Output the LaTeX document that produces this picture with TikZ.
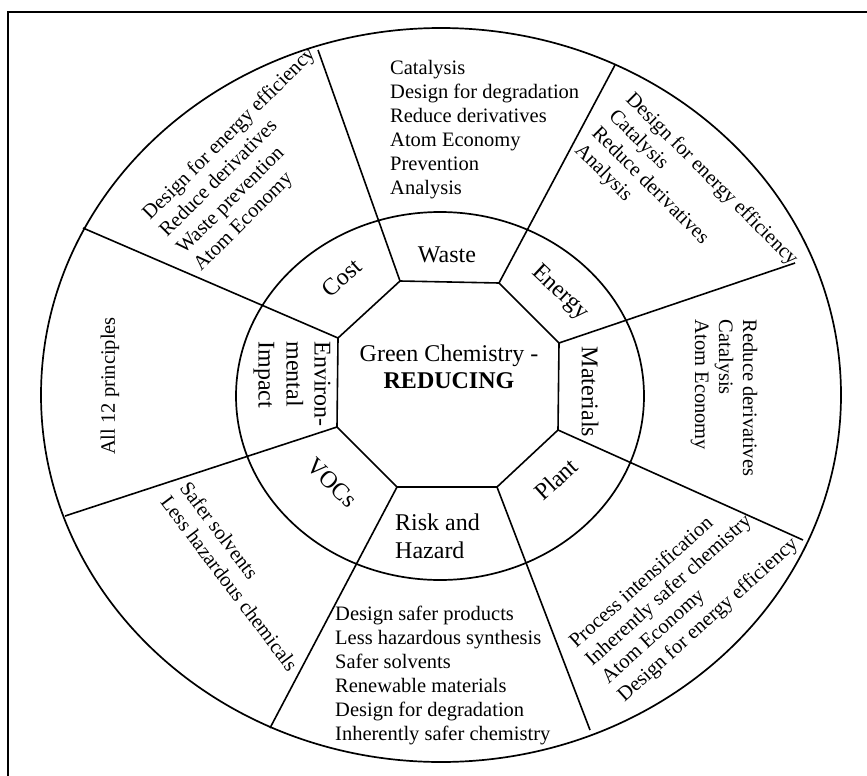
\documentclass[tikz,border=0pt]{standalone}
\usepackage{fontspec}
\setmainfont{Liberation Serif}
\begin{document}
\begin{tikzpicture}[x=1pt,y=-1pt,
  rim/.style={line width=1.7pt},
  spoke/.style={line width=1.6pt},
  hub/.style={font=\fontsize{24}{27}\selectfont, align=center, inner sep=0pt},
  ringlabel/.style={font=\fontsize{24}{28}\selectfont, align=left, inner sep=0pt},
  principles/.style={font=\fontsize{20.5}{24}\selectfont, align=left, inner sep=0pt},
]
\useasboundingbox (0,0) rectangle (867,776);
\clip (0,0) rectangle (867,776);

% outer frame
\draw[line width=2.2pt] (8,12) rectangle (900,800);

% outer and inner rings
\draw[rim] (441,395) ellipse [x radius=400pt, y radius=367pt];
\draw[rim] (440,396) ellipse [x radius=204pt, y radius=184pt];

% octagon corners
\coordinate (v1) at (400,281);
\coordinate (v2) at (499,283);
\coordinate (v3) at (559,343);
\coordinate (v4) at (558,430);
\coordinate (v5) at (497,487);
\coordinate (v6) at (397,487);
\coordinate (v7) at (337,427);
\coordinate (v8) at (338,338);

% outer ends of the spokes
\coordinate (e1) at (318,50);
\coordinate (e2) at (615,65);
\coordinate (e3) at (795,263);
\coordinate (e4) at (803,540);
\coordinate (e5) at (590,730);
\coordinate (e6) at (270,728);
\coordinate (e7) at (65,516);
\coordinate (e8) at (83,228);

\draw[spoke, line join=round] (v1) -- (v2) -- (v3) -- (v4) -- (v5) -- (v6) -- (v7) -- (v8) -- cycle;
\foreach \i in {1,...,8} \draw[spoke] (v\i) -- (e\i);

% hub
\node[hub] (hubtext) at (449,366.5) {Green Chemistry -\\\textbf{REDUCING}};

% inner ring labels
\node[ringlabel] (waste) at (447,255) {Waste};
\node[ringlabel, rotate=-43] (energy) at (560,293) {Energy};
\node[ringlabel, rotate=-90] (materials) at (590,392) {Materials};
\node[ringlabel, rotate=42] (plant) at (556,479) {Plant};
\node[ringlabel, anchor=west] (risk) at (395,536) {Risk and\\Hazard};
\node[ringlabel, rotate=-44] (vocs) at (332,483) {VOCs};
\node[ringlabel, rotate=-90] (envimpact) at (292,384) {Environ-\\mental\\Impact};
\node[ringlabel, rotate=42] (cost) at (342,278) {Cost};

% outer ring: principles for each aspect
\node[principles, anchor=west] (wastelist) at (390,130)
  {Catalysis\\Design for degradation\\Reduce derivatives\\Atom Economy\\Prevention\\Analysis};
\node[principles, rotate=-45, anchor=west] (energylist) at (603,122)
  {Design for energy efficiency\\Catalysis\\Reduce derivatives\\Analysis};
\node[principles, rotate=-90] (materialslist) at (724,398)
  {Reduce derivatives\\Catalysis\\Atom Economy};
\node[principles, rotate=42, anchor=west] (plantlist) at (597,672)
  {Process intensification\\Inherently safer chemistry\\Atom Economy\\Design for energy efficiency};
\node[principles, anchor=west] (risklist) at (335,675)
  {Design safer products\\Less hazardous synthesis\\Safer solvents\\Renewable materials\\Design for degradation\\Inherently safer chemistry};
\node[principles, rotate=-53, anchor=west] (vocslist) at (175,491)
  {Safer solvents\\Less hazardous chemicals};
\node[principles, rotate=90] (envlist) at (110,386) {All 12 principles};
\node[principles, rotate=45, anchor=west] (costlist) at (172,243)
  {Design for energy efficiency\\Reduce derivatives\\Waste prevention\\Atom Economy};
\end{tikzpicture}
\end{document}
